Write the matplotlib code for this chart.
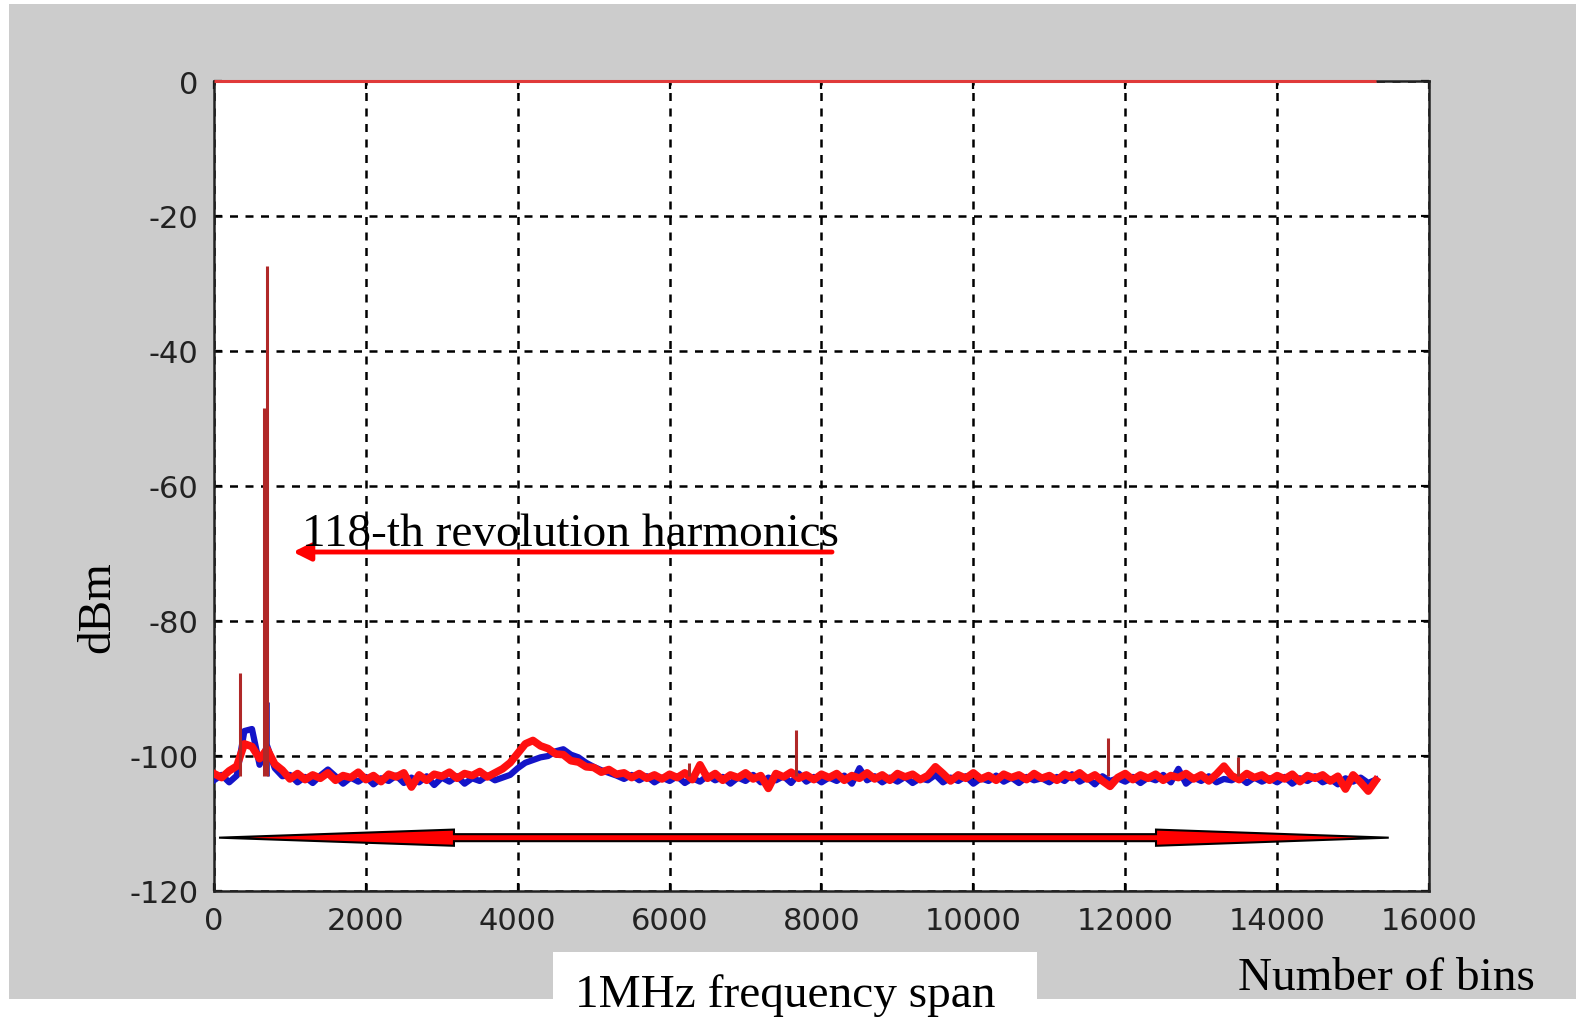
import numpy as np
import matplotlib
matplotlib.use("Agg")
import matplotlib.pyplot as plt
from matplotlib.patches import Rectangle

plt.rcParams["axes.unicode_minus"] = False

# spectrum, one value every 100 bins
bins = np.arange(0, 15400, 100)

red_db = [
    -102.6, -103.2, -102.2, -101.5, -98.2, -98.6, -100.4, -99.0, -101.2, -102.1,
    -103.4, -102.6, -103.5, -102.8, -103.3, -102.5, -103.6, -102.9, -103.2, -102.4,
    -103.5, -102.9, -103.8, -102.7, -103.1, -102.5, -104.6, -102.8, -103.6, -102.7,
    -103.0, -102.4, -103.3, -102.6, -102.9, -102.3, -103.1, -102.5, -101.9, -101.0,
    -99.6, -98.2, -97.7, -98.5, -98.9, -99.7, -99.8, -100.7, -100.9, -101.6,
    -101.7, -102.4, -102.0, -102.7, -102.5, -103.2, -102.6, -103.3, -102.8, -103.4,
    -102.7, -103.2, -102.5, -103.5, -101.3, -103.3, -102.6, -103.6, -102.8, -103.2,
    -102.5, -103.4, -102.9, -104.8, -102.6, -103.1, -102.4, -103.3, -102.8, -103.5,
    -102.7, -103.2, -102.6, -103.6, -102.9, -103.3, -102.5, -103.4, -102.8, -103.6,
    -102.6, -103.1, -102.7, -103.5, -102.9, -101.6, -102.6, -103.7, -102.8, -103.3,
    -102.5, -103.4, -102.9, -103.6, -102.7, -103.2, -102.8, -103.5, -102.6, -103.3,
    -102.9, -103.6, -102.7, -103.2, -102.5, -103.4, -102.8, -103.7, -104.5, -103.2,
    -102.6, -103.5, -102.8, -103.3, -102.7, -103.6, -102.9, -103.2, -102.6, -103.4,
    -102.8, -103.7, -102.7, -101.5, -102.9, -103.5, -102.6, -103.2, -102.8, -103.6,
    -102.9, -103.4, -102.7, -103.8, -102.9, -103.3, -102.8, -103.7, -103.0, -104.9,
    -102.8, -103.9, -105.2, -103.6,
]

blue_db = [
    -103.6, -102.8, -103.9, -102.9, -96.3, -96.0, -101.3, -98.5, -101.8, -103.0,
    -102.8, -103.9, -103.1, -104.0, -102.9, -102.0, -103.0, -104.1, -103.2, -103.8,
    -103.1, -104.2, -103.3, -103.7, -102.9, -104.0, -103.2, -103.9, -103.0, -104.3,
    -103.2, -103.8, -103.0, -104.1, -103.3, -103.7, -102.9, -103.6, -103.2, -102.8,
    -101.8, -101.0, -100.6, -100.2, -100.0, -99.3, -99.0, -99.8, -100.2, -101.0,
    -101.6, -102.1, -102.5, -102.9, -103.4, -102.8, -103.6, -103.0, -103.9, -103.2,
    -103.7, -103.0, -104.0, -103.3, -103.8, -102.9, -103.6, -103.1, -104.1, -103.2,
    -103.7, -102.8, -103.9, -103.2, -103.6, -103.0, -104.0, -102.6, -103.8, -103.1,
    -103.9, -103.2, -103.7, -102.9, -104.1, -101.8, -103.6, -103.0, -103.9, -103.2,
    -103.8, -103.1, -104.0, -103.3, -103.6, -102.8, -103.9, -103.2, -103.7, -103.0,
    -104.1, -103.3, -103.7, -102.9, -103.8, -103.2, -104.0, -103.1, -103.6, -103.3,
    -103.9, -103.1, -103.7, -102.7, -103.8, -103.2, -104.2, -103.0, -103.7, -103.3,
    -103.8, -103.1, -104.0, -103.2, -103.6, -102.8, -103.9, -101.9, -104.1, -103.2,
    -103.7, -103.0, -103.9, -103.4, -103.6, -103.1, -104.0, -103.2, -103.8, -103.3,
    -103.9, -103.1, -104.1, -103.3, -103.7, -103.0, -103.9, -103.4, -104.2, -103.3,
    -103.8, -103.2, -104.0, -103.5,
]

# narrow lines (harmonics)
red_spike_bins = [345, 662, 701, 6260, 7660, 11770, 13490]
red_spike_db = [-87.7, -48.5, -27.4, -101.0, -96.2, -97.3, -100.2]
blue_spike_bins = [705]
blue_spike_db = [-92.0]

xticks = [0, 2000, 4000, 6000, 8000, 10000, 12000, 14000, 16000]
yticks = [0, -20, -40, -60, -80, -100, -120]

W, H = 1576, 1020
fig = plt.figure(figsize=(W / 100, H / 100), dpi=100)
fig.patch.set_facecolor("white")
fig.patches.append(Rectangle((9 / W, 1 - 1000 / H), 1 - 9 / W, 995 / H,
                             transform=fig.transFigure, facecolor="#cccccc",
                             edgecolor="none", zorder=-10))

ax = fig.add_axes([214 / W, 1 - 892 / H, (1429 - 214) / W, (892 - 82) / H])
ax.set_facecolor("white")

ax.plot(bins, blue_db, color="#1414c8", lw=4.5, zorder=3)
ax.vlines(blue_spike_bins, -103, blue_spike_db, color="#3030b0", lw=2, zorder=3)
ax.plot(bins, red_db, color="#ff1010", lw=5.5, zorder=4)
ax.vlines(red_spike_bins, -103, red_spike_db, color="#b02828", lw=2.2, zorder=5)
ax.hlines(0, bins[0], bins[-1], color="#e03a3a", lw=2.2, zorder=6, clip_on=False)

# big double-headed arrow for the span
span_lo, span_hi, arrow_y = 66, 15470, -112.1
head_lo, head_hi = 3160, 12405
head_half, shaft_half = 1.2, 0.52
px = [span_lo, head_lo, head_lo, head_hi, head_hi, span_hi,
      head_hi, head_hi, head_lo, head_lo, span_lo]
py = [arrow_y, arrow_y + head_half, arrow_y + shaft_half, arrow_y + shaft_half,
      arrow_y + head_half, arrow_y, arrow_y - head_half, arrow_y - shaft_half,
      arrow_y - shaft_half, arrow_y - head_half, arrow_y]
ax.fill(px, py, facecolor="#ff0000", edgecolor="black", lw=1.5, zorder=6)

ax.set_xlim(0, 16000)
ax.set_ylim(-120, 0)
ax.set_xticks(xticks)
ax.set_yticks(yticks)
ax.grid(True, color="black", linestyle=(0, (3.2, 3)), lw=1.8)
ax.tick_params(direction="in", length=6, width=1.6, top=True, right=True,
               labelsize=22, labelcolor="#222222", pad=11)
for s in ax.spines.values():
    s.set_linewidth(1.8)
    s.set_color("#222222")

serif = "Liberation Serif"
fig.text(302 / W, 1 - 546 / H, "118-th revolution harmonics", family=serif,
         fontsize=34, va="baseline", ha="left")
ax.annotate("", xy=(293 / W, 1 - 553 / H), xytext=(832 / W, 1 - 553 / H),
            xycoords="figure fraction", textcoords="figure fraction",
            arrowprops=dict(arrowstyle="-|>", color="#ff0000", lw=3.5,
                            mutation_scale=26, shrinkA=0, shrinkB=0))
fig.text(98 / W, 1 - 607 / H, "dBm", family=serif, fontsize=34,
         rotation=90, va="center", ha="center")
fig.text(1238 / W, 1 - 990 / H, "Number of bins", family=serif, fontsize=34,
         va="baseline", ha="left")
fig.patches.append(Rectangle((553 / W, 0), (1037 - 553) / W, (H - 953) / H,
                             transform=fig.transFigure, facecolor="white",
                             edgecolor="none", zorder=1))
fig.text(575 / W, 1 - 1007 / H, "1MHz frequency span", family=serif,
         fontsize=34, va="baseline", ha="left", zorder=2)

fig.savefig("out.png", dpi=100)
